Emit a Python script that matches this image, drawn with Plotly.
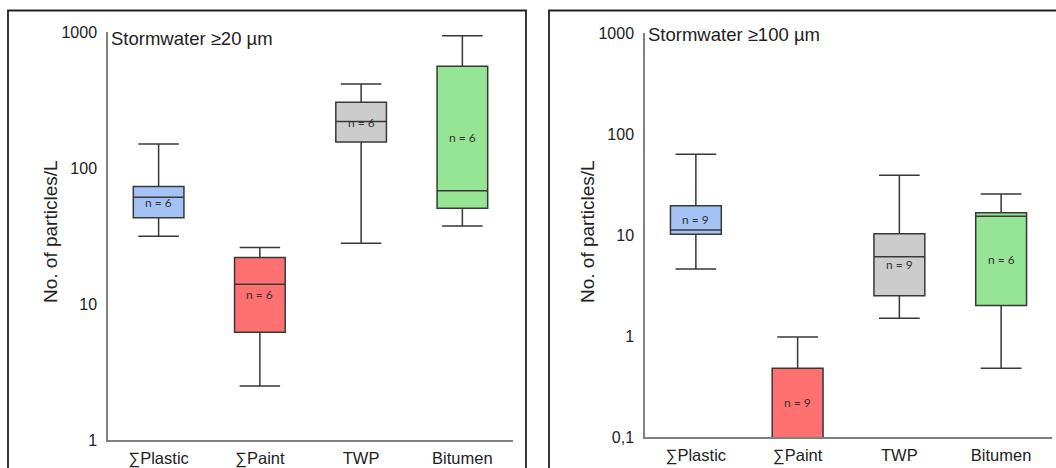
import math
import plotly.graph_objects as go

# ---------------- data ----------------
categories = ["∑Plastic", "∑Paint", "TWP", "Bitumen"]
colors = ["#a4c2f4", "#ff7070", "#cccccc", "#95e595"]

# Stormwater >=20 µm
left_lower = [31.5, 2.5, 28, 37.5]
left_q1 = [43, 6.2, 155, 50.5]
left_median = [61, 14, 220, 68]
left_q3 = [73, 22, 305, 560]
left_upper = [150, 26, 415, 940]
left_n = [6, 6, 6, 6]

# Stormwater >=100 µm (Paint lower quartile / median below axis minimum)
right_lower = [4.6, 0.05, 1.5, 0.48]
right_q1 = [10.2, 0.05, 2.5, 2.0]
right_median = [11.2, 0.05, 6.1, 15.3]
right_q3 = [19.5, 0.48, 10.3, 16.6]
right_upper = [63, 0.98, 39, 25.5]
right_n = [9, 9, 9, 6]

left_ticks = [1, 10, 100, 1000]
left_ticktext = ["1", "10", "100", "1000"]
right_ticks = [0.1, 1, 10, 100, 1000]
right_ticktext = ["0,1", "1", "10", "100", "1000"]

left_title = "Stormwater ≥20 µm"
right_title = "Stormwater ≥100 µm"
y_title = "No. of particles/L"

# ---------------- figure ----------------
W, H = 1056, 468
FONT = "Liberation Sans, Arial, sans-serif"
LINE = "#383838"
AXIS = "#808080"

fig = go.Figure()


def add_panel(xa, ya, lower, q1, med, q3, upper, ns, ymin):
    for i, cat in enumerate(categories):
        fig.add_trace(go.Box(
            x=[cat], q1=[q1[i]], median=[med[i]], q3=[q3[i]],
            lowerfence=[lower[i]], upperfence=[upper[i]],
            fillcolor=colors[i], line=dict(color=LINE, width=1.5),
            width=0.5, whiskerwidth=0.8, boxpoints=False,
            xaxis=xa, yaxis=ya, showlegend=False, hoverinfo="skip",
        ))
        lo = max(q1[i], ymin)
        ymid = (math.log10(lo) + math.log10(q3[i])) / 2
        fig.add_annotation(
            x=cat, y=ymid, xref=xa, yref=ya, text=f"n = {ns[i]}",
            showarrow=False, font=dict(family="Lato, Open Sans, sans-serif", size=12, color="#333333"),
        )


add_panel("x", "y", left_lower, left_q1, left_median, left_q3, left_upper, left_n, 1)
add_panel("x2", "y2", right_lower, right_q1, right_median, right_q3, right_upper, right_n, 0.1)

xcommon = dict(
    type="category", categoryorder="array", categoryarray=categories,
    range=[-0.5, 3.5], showline=True, linecolor=AXIS, linewidth=1.5,
    showgrid=False, zeroline=False, ticks="outside", ticklen=2,
    tickcolor="rgba(0,0,0,0)", tickfont=dict(family=FONT, size=16.5, color="#222222"),
    automargin=False,
)
ycommon = dict(
    type="log", showline=True, linecolor=AXIS, linewidth=1.5,
    showgrid=False, zeroline=False, ticks="outside", ticklen=6,
    tickcolor="rgba(0,0,0,0)", tickfont=dict(family=FONT, size=16, color="#222222"),
    automargin=False,
)

fig.update_layout(
    width=W, height=H,
    margin=dict(l=0, r=0, t=0, b=0),
    paper_bgcolor="white", plot_bgcolor="white",
    boxmode="overlay",
    xaxis=dict(domain=[108 / W, 513 / W], anchor="y", **xcommon),
    yaxis=dict(domain=[(H - 440) / H, (H - 32) / H], anchor="x", range=[0, 3],
               tickvals=left_ticks, ticktext=left_ticktext, **ycommon),
    xaxis2=dict(domain=[645 / W, 1052 / W], anchor="y2", **xcommon),
    yaxis2=dict(domain=[(H - 437) / H, (H - 33) / H], anchor="x2", range=[-1, 3],
                tickvals=right_ticks, ticktext=right_ticktext, **ycommon),
)

# panel frames
for x0, x1 in [(8, 526), (549, 1070)]:
    fig.add_shape(type="rect", xref="paper", yref="paper",
                  x0=x0 / W, x1=x1 / W, y0=-0.1, y1=(H - 10.5) / H,
                  line=dict(color="#222222", width=1.8), fillcolor="rgba(0,0,0,0)")

# panel titles
for xpx, ypx, txt in [(109, 38, left_title), (646, 35, right_title)]:
    fig.add_annotation(xref="paper", yref="paper", x=xpx / W, y=(H - ypx) / H,
                       xanchor="left", yanchor="middle", text=txt, showarrow=False,
                       font=dict(family=FONT, size=18.5, color="#222222"))

# y-axis titles
for xpx in [50, 587]:
    fig.add_annotation(xref="paper", yref="paper", x=xpx / W, y=(H - 232) / H,
                       xanchor="center", yanchor="middle", text=y_title, textangle=-90,
                       showarrow=False, font=dict(family=FONT, size=19, color="#222222"))

fig.write_html("out.html", config={"displayModeBar": False},
               post_script="document.body.style.margin='0';")
